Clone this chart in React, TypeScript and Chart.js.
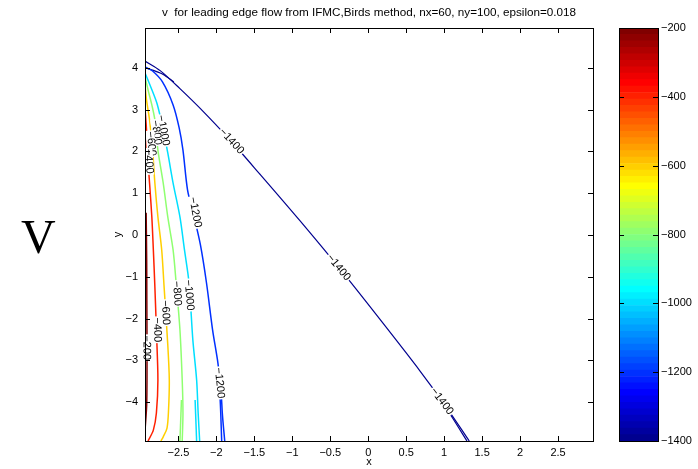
import React, { useEffect, useRef } from 'react';
import { Chart, registerables } from 'chart.js';
Chart.register(...registerables);

const TITLE = 'v  for leading edge flow from IFMC,Birds method, nx=60, ny=100, epsilon=0.018';
const xTicks = [-2.5, -2, -1.5, -1, -0.5, 0, 0.5, 1, 1.5, 2, 2.5];
const yTicks = [-4, -3, -2, -1, 0, 1, 2, 3, 4];
const xRange = [-2.94, 2.96];
const yRange = [-4.93, 4.95];
const colorbarTicks = [-1400, -1200, -1000, -800, -600, -400, -200];
const colorLimits = [-1400, -200];

type Pt = [number, number];

const c1400: Pt[] = [[-2.94, 4.16], [-2.74, 3.93], [-2.48, 3.50], [-2.21, 3.02], [-1.82, 2.27], [-1.43, 1.46], [-0.90, 0.34], [-0.37, -0.82], [0.15, -2.01], [0.68, -3.25], [1.01, -4.07], [1.33, -4.93]];
const c1400top: Pt[] = [[-2.94, 4.00], [-2.82, 3.93], [-2.70, 3.84], [-2.56, 3.66]];
const c1400bot: Pt[] = [[0.90, -3.80], [1.10, -4.35], [1.30, -4.93]];
const c1200: Pt[] = [[-2.94, 4.02], [-2.84, 3.92], [-2.71, 3.66], [-2.57, 3.11], [-2.49, 2.56], [-2.44, 2.03], [-2.38, 1.08], [-2.30, 0.48], [-2.21, -0.24], [-2.13, -1.15], [-2.05, -2.27], [-1.98, -3.06], [-1.94, -3.71], [-1.92, -4.31], [-1.89, -4.93]];
const c1200bot: Pt[] = [[-1.98, -3.23], [-1.95, -3.95], [-1.93, -4.93]];
const c1000: Pt[] = [[-2.94, 3.88], [-2.86, 3.52], [-2.78, 3.13], [-2.70, 2.51], [-2.64, 1.96], [-2.57, 1.24], [-2.48, 0.43], [-2.42, -0.36], [-2.36, -1.15], [-2.31, -2.51], [-2.26, -3.47], [-2.24, -4.26], [-2.22, -4.93]];
const c1000bot: Pt[] = [[-2.28, -3.95], [-2.26, -4.93]];
const c800: Pt[] = [[-2.94, 3.78], [-2.90, 3.47], [-2.85, 3.11], [-2.81, 2.75], [-2.77, 2.03], [-2.70, 1.24], [-2.64, 0.43], [-2.57, -0.36], [-2.53, -1.15], [-2.48, -2.27], [-2.45, -3.47], [-2.44, -4.26], [-2.45, -4.93]];
const c800bot: Pt[] = [[-2.46, -3.95], [-2.48, -4.93]];
const c600: Pt[] = [[-2.94, 3.59], [-2.92, 3.23], [-2.88, 2.75], [-2.84, 2.03], [-2.81, 1.24], [-2.77, 0.43], [-2.72, -0.36], [-2.69, -1.20], [-2.64, -2.63], [-2.62, -3.47], [-2.63, -4.19], [-2.65, -4.62], [-2.70, -4.83], [-2.73, -4.93]];
const c400: Pt[] = [[-2.94, 3.04], [-2.92, 2.51], [-2.91, 2.03], [-2.88, 1.24], [-2.85, 0.43], [-2.83, -0.36], [-2.81, -1.24], [-2.79, -2.27], [-2.77, -3.47], [-2.79, -4.26], [-2.83, -4.67], [-2.90, -4.93]];
const c200: Pt[] = [[-2.925, 0.53], [-2.918, -0.60], [-2.916, -1.56], [-2.914, -2.51], [-2.914, -3.47], [-2.918, -4.07], [-2.93, -4.43], [-2.94, -4.67]];

const contourLines: { level: number; pts: Pt[] }[] = [
  { level: -200, pts: c200 },
  { level: -400, pts: c400 },
  { level: -600, pts: c600 },
  { level: -800, pts: c800 },
  { level: -800, pts: c800bot },
  { level: -1000, pts: c1000 },
  { level: -1000, pts: c1000bot },
  { level: -1200, pts: c1200 },
  { level: -1200, pts: c1200bot },
  { level: -1400, pts: c1400 },
  { level: -1400, pts: c1400top },
  { level: -1400, pts: c1400bot },
];

const contourLabels: { text: string; x: number; y: number; angle: number }[] = [
  { text: '−1400', x: -1.80, y: 2.24, angle: 47 },
  { text: '−1400', x: -0.39, y: -0.78, angle: 50 },
  { text: '−1400', x: 0.97, y: -3.98, angle: 53 },
  { text: '−1200', x: -2.28, y: 0.54, angle: 79 },
  { text: '−1200', x: -1.96, y: -3.54, angle: 85 },
  { text: '−1000', x: -2.70, y: 2.50, angle: 79 },
  { text: '−1000', x: -2.36, y: -1.44, angle: 85 },
  { text: '−800', x: -2.79, y: 2.45, angle: 82 },
  { text: '−800', x: -2.52, y: -1.40, angle: 86 },
  { text: '−600', x: -2.86, y: 2.18, angle: 84 },
  { text: '−600', x: -2.67, y: -1.86, angle: 87 },
  { text: '−400', x: -2.89, y: 1.76, angle: 86 },
  { text: '−400', x: -2.78, y: -2.27, angle: 88 },
  { text: '−200', x: -2.92, y: -2.70, angle: 89 },
];

const FONT = 'Liberation Sans, Arial, Helvetica, sans-serif';

function jet64(i: number): string {
  const n = 16;
  const u: number[] = [];
  for (let k = 1; k <= n; k++) u.push(k / n);
  for (let k = 0; k < n - 1; k++) u.push(1);
  for (let k = n; k >= 1; k--) u.push(k / n);
  const pick = (idx: number) => (idx >= 0 && idx < u.length ? u[idx] : 0);
  const r = pick(i - 24);
  const g = pick(i - 8);
  const b = pick(i + 8);
  return `rgb(${Math.round(r * 255)},${Math.round(g * 255)},${Math.round(b * 255)})`;
}

function levelColor(v: number): string {
  const [lo, hi] = colorLimits;
  let idx = Math.floor(((v - lo) / (hi - lo)) * 64);
  idx = Math.max(0, Math.min(63, idx));
  return jet64(idx);
}

const fmt = (v: number | string) => String(v).replace('-', '−');

function drawInwardTicks(chart: any, both: boolean, doX: boolean) {
  const { ctx, chartArea: a } = chart;
  const L = 5;
  ctx.save();
  ctx.strokeStyle = '#000';
  ctx.lineWidth = 1;
  ctx.beginPath();
  if (doX) {
    const xs = chart.scales.x;
    for (const t of xs.ticks) {
      const p = Math.round(xs.getPixelForValue(t.value)) + 0.5;
      ctx.moveTo(p, a.bottom);
      ctx.lineTo(p, a.bottom - L);
      ctx.moveTo(p, a.top);
      ctx.lineTo(p, a.top + L);
    }
  }
  const ys = chart.scales.y;
  for (const t of ys.ticks) {
    const p = Math.round(ys.getPixelForValue(t.value)) + 0.5;
    ctx.moveTo(a.left, p);
    ctx.lineTo(a.left + L, p);
    if (both) {
      ctx.moveTo(a.right, p);
      ctx.lineTo(a.right - L, p);
    }
  }
  ctx.stroke();
  ctx.strokeRect(Math.round(a.left) + 0.5, Math.round(a.top) + 0.5, Math.round(a.right - a.left), Math.round(a.bottom - a.top));
  ctx.restore();
}

const mainPlugin = {
  id: 'mainFrame',
  afterDatasetsDraw(chart: any) {
    const { ctx } = chart;
    const xs = chart.scales.x;
    const ys = chart.scales.y;
    ctx.save();
    ctx.font = `11px ${FONT}`;
    ctx.textAlign = 'center';
    ctx.textBaseline = 'middle';
    for (const l of contourLabels) {
      const px = xs.getPixelForValue(l.x);
      const py = ys.getPixelForValue(l.y);
      ctx.save();
      ctx.translate(px, py);
      ctx.rotate((l.angle * Math.PI) / 180);
      const w = ctx.measureText(l.text).width;
      ctx.fillStyle = '#fff';
      ctx.fillRect(-w / 2 - 1, -4.5, w + 2, 9);
      ctx.fillStyle = '#000';
      ctx.fillText(l.text, 0, 0);
      ctx.restore();
    }
    ctx.restore();
  },
  afterDraw(chart: any) {
    drawInwardTicks(chart, true, true);
    const { ctx, chartArea: a } = chart;
    ctx.save();
    ctx.font = `11.7px ${FONT}`;
    ctx.fillStyle = '#000';
    ctx.textAlign = 'center';
    ctx.textBaseline = 'middle';
    ctx.fillText(TITLE, (a.left + a.right) / 2, 13);
    ctx.restore();
  },
};

const cbPlugin = {
  id: 'cbFrame',
  afterDraw(chart: any) {
    drawInwardTicks(chart, true, false);
  },
};

export default function App() {
  const mainRef = useRef<HTMLCanvasElement>(null);
  const cbRef = useRef<HTMLCanvasElement>(null);

  useEffect(() => {
    document.body.style.margin = '0';
    const tickFont = { family: FONT, size: 11 };
    const main = new Chart(mainRef.current!, {
      type: 'scatter',
      data: {
        datasets: contourLines.map((c) => ({
          data: c.pts.map(([x, y]) => ({ x, y })),
          showLine: true,
          borderColor: levelColor(c.level),
          backgroundColor: levelColor(c.level),
          borderWidth: c.level === -1400 ? 1.2 : 1.5,
          pointRadius: 0,
          tension: 0.3,
          fill: false,
        })),
      },
      options: {
        responsive: false,
        animation: false,
        events: [],
        layout: { padding: { top: 28, right: 7, left: 0, bottom: 0 } },
        plugins: { legend: { display: false }, tooltip: { enabled: false }, title: { display: false } },
        scales: {
          x: {
            type: 'linear',
            min: xRange[0],
            max: xRange[1],
            grid: { display: false, drawTicks: false },
            border: { display: false },
            ticks: { padding: 5, font: tickFont, color: '#000', callback: (v: any) => fmt(v) },
            afterBuildTicks: (s: any) => { s.ticks = xTicks.map((v) => ({ value: v })); },
            afterFit: (s: any) => { s.height = 28; },
            title: { display: true, text: 'x', font: tickFont, color: '#000', padding: { top: 0, bottom: 0 } },
          },
          y: {
            type: 'linear',
            min: yRange[0],
            max: yRange[1],
            grid: { display: false, drawTicks: false },
            border: { display: false },
            ticks: { padding: 7, font: tickFont, color: '#000', callback: (v: any) => fmt(v) },
            afterBuildTicks: (s: any) => { s.ticks = yTicks.map((v) => ({ value: v })); },
            afterFit: (s: any) => { s.width = 145; },
            title: { display: true, text: 'y', font: tickFont, color: '#000', padding: { top: 111, bottom: 0 } },
          },
        },
      } as any,
      plugins: [mainPlugin],
    });

    const nBands = 64;
    const h = (colorLimits[1] - colorLimits[0]) / nBands;
    const cb = new Chart(cbRef.current!, {
      type: 'bar',
      data: {
        labels: ['cb'],
        datasets: Array.from({ length: nBands }, (_, i) => ({
          data: [[colorLimits[0] + i * h, colorLimits[0] + (i + 1) * h]] as any,
          backgroundColor: jet64(i),
          borderWidth: 0,
          barPercentage: 1,
          categoryPercentage: 1,
          grouped: false,
        })),
      },
      options: {
        responsive: false,
        animation: false,
        events: [],
        layout: { padding: { top: 28, right: 0, left: 19, bottom: 28 } },
        plugins: { legend: { display: false }, tooltip: { enabled: false } },
        scales: {
          x: { display: false },
          y: {
            position: 'right',
            min: colorLimits[0],
            max: colorLimits[1],
            grid: { display: false, drawTicks: false },
            border: { display: false },
            ticks: { padding: 3, font: tickFont, color: '#000', callback: (v: any) => fmt(v) },
            afterBuildTicks: (s: any) => { s.ticks = colorbarTicks.map((v) => ({ value: v })); },
            afterFit: (s: any) => { s.width = 40; },
          },
        },
      } as any,
      plugins: [cbPlugin],
    });

    return () => {
      main.destroy();
      cb.destroy();
    };
  }, []);

  return (
    <div style={{ position: 'fixed', left: 0, top: 0, width: 698, height: 469, background: '#fff', overflow: 'hidden' }}>
      <canvas ref={mainRef} width={600} height={469} style={{ position: 'absolute', left: 0, top: 0, width: 600, height: 469 }} />
      <canvas ref={cbRef} width={98} height={469} style={{ position: 'absolute', left: 600, top: 0, width: 98, height: 469 }} />
      <div style={{ position: 'absolute', left: 21, top: 213, fontFamily: '"Liberation Serif", "Times New Roman", serif', fontSize: 48, lineHeight: '48px', color: '#000' }}>V</div>
    </div>
  );
}
